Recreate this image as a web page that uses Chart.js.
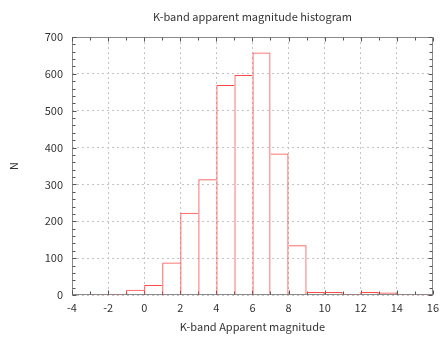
<!DOCTYPE html>
<html><head><meta charset="utf-8">
<script src="https://cdn.jsdelivr.net/npm/chart.js@4"></script>
<style>html,body{margin:0;padding:0;background:#fff}#wrap{width:445px;height:337px}</style>
</head><body><div id="wrap"><canvas id="c" width="445" height="337"></canvas></div>
<script>
const binStarts = [-3,-2,-1,0,1,2,3,4,5,6,7,8,9,10,11,12,13,14,15];
const counts = [2,3,14,27,88,223,314,570,597,658,384,135,8,8,3,8,7,2,2];
const xTicks = [-4,-2,0,2,4,6,8,10,12,14,16];
const yTicks = [0,100,200,300,400,500,600,700];
const chartTitle = 'K-band apparent magnitude histogram';
const xTitle = 'K-band Apparent magnitude';
const yTitle = 'N';

const FONT = '"Noto Sans CJK JP", "DejaVu Sans", sans-serif';
const last = counts.length - 1;

const frameTicks = {
  id: 'frameTicks',
  beforeDatasetsDraw(chart) {
    const {ctx, chartArea: a, scales: {x, y}} = chart;
    ctx.save();
    ctx.strokeStyle = '#8a8a8a';
    ctx.lineWidth = 1;
    const L = Math.round(a.left) + 0.5, R = Math.round(a.right) - 0.5;
    const T = Math.round(a.top) + 0.5, B = Math.round(a.bottom) - 0.5;
    ctx.strokeRect(L, T, R - L, B - T);
    ctx.strokeStyle = '#555';
    ctx.beginPath();
    for (let v = xTicks[0]; v <= xTicks[xTicks.length - 1]; v += 1) {
      const px = Math.round(x.getPixelForValue(v)) + 0.5;
      const len = (v % 2 === 0) ? 4 : 3;
      ctx.moveTo(px, B); ctx.lineTo(px, B - len);
      ctx.moveTo(px, T); ctx.lineTo(px, T + len);
    }
    for (let v = yTicks[0]; v <= yTicks[yTicks.length - 1]; v += 20) {
      const py = Math.round(y.getPixelForValue(v)) + 0.5;
      const len = (v % 100 === 0) ? 4 : 3;
      ctx.moveTo(L, py); ctx.lineTo(L + len, py);
      ctx.moveTo(R, py); ctx.lineTo(R - len, py);
    }
    ctx.stroke();
    ctx.restore();
  }
};

new Chart(document.getElementById('c'), {
  type: 'bar',
  data: {
    datasets: [{
      data: binStarts.map((s, i) => ({x: s + 0.5, y: counts[i]})),
      backgroundColor: 'rgba(0,0,0,0)',
      borderColor: '#ff4a4a',
      borderWidth: ctx => {
        const i = ctx.dataIndex;
        return {
          top: 1, bottom: 0,
          left: (i === 0 || counts[i] > counts[i - 1]) ? 1 : 0,
          right: (i === last || counts[i] >= counts[i + 1]) ? 1 : 0
        };
      },
      borderSkipped: false,
      barPercentage: 1,
      categoryPercentage: 1,
      inflateAmount: 0
    }]
  },
  options: {
    responsive: false,
    animation: false,
    layout: {padding: {left: 0, right: 9, top: 0, bottom: 0}},
    plugins: {legend: {display: false}, tooltip: {enabled: false}, title: {display: false}},
    scales: {
      x: {
        type: 'linear', position: 'bottom', min: -4, max: 16, offset: false,
        afterBuildTicks: s => { s.ticks = xTicks.map(v => ({value: v})); },
        afterFit: s => { s.height = 42; },
        ticks: {padding: 6, color: '#333', font: {family: FONT, size: 11}, maxRotation: 0},
        grid: {color: '#c4c4c4', drawTicks: false, offset: false},
        border: {display: false, dash: [2, 3]},
        title: {display: true, text: xTitle, color: '#333', font: {family: FONT, size: 11}, padding: {top: 0, bottom: 4}}
      },
      x2: {
        type: 'linear', position: 'top', min: -4, max: 16, offset: false,
        afterFit: s => { s.height = 37; },
        ticks: {display: false},
        grid: {display: false, drawTicks: false},
        border: {display: false},
        title: {display: true, text: chartTitle, color: '#333', font: {family: FONT, size: 11}, padding: {top: 10, bottom: 0}}
      },
      y: {
        type: 'linear', min: 0, max: 700,
        afterBuildTicks: s => { s.ticks = yTicks.map(v => ({value: v})); },
        afterFit: s => { s.width = 72; },
        ticks: {padding: 9, color: '#333', font: {family: FONT, size: 11}},
        grid: {color: '#c4c4c4', drawTicks: false},
        border: {display: false, dash: [2, 3]},
        title: {display: true, text: yTitle, color: '#333', font: {family: FONT, size: 11}, padding: 7}
      }
    }
  },
  plugins: [frameTicks]
});
</script>
</body></html>
